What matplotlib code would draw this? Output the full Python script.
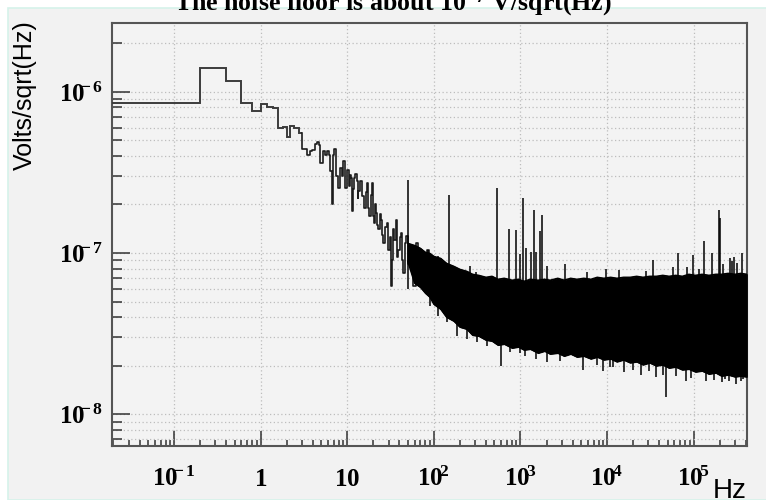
import numpy as np
import matplotlib
matplotlib.use("Agg")
import matplotlib.pyplot as plt
from matplotlib.ticker import LogLocator, NullFormatter
from matplotlib.patches import Rectangle
from matplotlib.transforms import ScaledTranslation

plt.rcParams['mathtext.fontset'] = 'custom'
plt.rcParams['mathtext.rm'] = 'Liberation Serif:bold'
plt.rcParams['mathtext.it'] = 'Liberation Serif:italic:bold'
plt.rcParams['mathtext.bf'] = 'Liberation Serif:bold'
plt.rcParams['mathtext.default'] = 'rm'

# ---------------- data ----------------
title_text = r"The noise floor is about 10$^{-7}$ V/sqrt(Hz)"
y_title = "Volts/sqrt(Hz)"
x_title = "Hz"

# low-frequency histogram bins (0.2 Hz wide)
hist_edges_hz = [0.0, 0.2, 0.4, 0.6, 0.8, 1.0, 1.2, 1.4, 1.6, 1.8, 2.0, 2.2, 2.4, 2.6, 2.8, 3.0]
hist_vals = [8.46e-7, 1.406e-6, 1.164e-6, 8.55e-7, 7.6e-7, 8.36e-7, 8.08e-7, 7.9e-7,
             5.94e-7, 6.08e-7, 5.27e-7, 6.17e-7, 5.99e-7, 5.99e-7, 5.56e-7]

# 3 - 100 Hz spectrum trace
line_hz = [3.0, 3.0, 3.42, 3.74, 3.91, 4.27, 4.54, 4.78, 4.87, 5.32, 5.56, 5.82, 6.18, 6.35,
           6.65, 6.82, 7.06, 7.45, 7.79, 8.28, 8.74, 9.04, 9.46, 10.05, 10.4, 10.8, 11.1,
           11.5, 11.8, 12.0, 12.4, 12.9, 13.2, 13.5, 14.08, 14.73, 15.65, 16.3, 17.09, 17.5,
           18.03, 18.6, 19.2, 19.8, 20.4, 21.0, 21.5, 22.2, 22.9, 23.6, 24.4, 25.2, 26.1,
           27.3, 28.6, 29.8, 30.8, 31.8, 32.6, 33.5, 35.0, 36.6, 37.7, 38.9, 40.2, 41.5,
           42.9, 44.4, 46.0, 47.7, 50.5, 54.0, 57.9, 62.2, 66.1, 70.5, 75.5, 82.6, 88.5,
           94.3, 100.3]
line_vals = [5.56e-7, 4.43e-7, 4.06e-7, 4.27e-7, 4.37e-7, 4.73e-7, 4.91e-7, 4.69e-7, 3.61e-7,
             4.27e-7, 4.07e-7, 4.27e-7, 4.07e-7, 3.21e-7, 2.0e-7, 4.07e-7, 4.41e-7, 2.99e-7,
             2.53e-7, 3.37e-7, 2.99e-7, 3.70e-7, 2.53e-7, 3.29e-7, 2.6e-7, 3.06e-7, 2.9e-7,
             1.82e-7, 2.5e-7, 2.93e-7, 3.1e-7, 2.78e-7, 2.2e-7, 2.41e-7, 2.78e-7, 2.25e-7,
             1.91e-7, 2.4e-7, 2.72e-7, 1.9e-7, 1.69e-7, 2.3e-7, 2.72e-7, 1.7e-7, 1.54e-7,
             2.0e-7, 1.78e-7, 1.5e-7, 1.40e-7, 1.75e-7, 1.61e-7, 1.3e-7, 1.16e-7, 1.45e-7,
             1.54e-7, 1.05e-7, 1.25e-7, 6.26e-8, 9.0e-8, 1.40e-7, 1.2e-7, 1.61e-7, 9.5e-8,
             1.05e-7, 1.25e-7, 1.34e-7, 9.0e-8, 7.57e-8, 1.15e-7, 1.27e-7, 8.5e-8, 1.10e-7,
             6.26e-8, 1.16e-7, 8.72e-8, 1.006e-7, 7.21e-8, 1.05e-7, 5.70e-8, 9.14e-8, 4.94e-8]

# dense noise band above ~50 Hz: upper / lower envelope
band_hz = [50, 60, 70, 80, 90, 100, 120, 140, 170, 200, 240, 280, 330, 400, 470, 550, 650,
           800, 950, 1100, 1300, 1600, 1900, 2200, 2700, 3200, 3800, 4500, 5400, 6500, 7700,
           9200, 11000, 13000, 15500, 18500, 22000, 26000, 31000, 37000, 44000, 52000, 62000,
           74000, 88000, 105000, 125000, 150000, 180000, 210000, 250000, 300000, 350000,
           410000]
band_hi = [1.15e-7, 1.115e-7, 1.07e-7, 1.01e-7, 9.96e-8, 9.54e-8, 9.27e-8, 8.64e-8, 8.28e-8,
           7.93e-8, 7.71e-8, 7.39e-8, 7.28e-8, 7.08e-8, 7.18e-8, 6.88e-8, 6.98e-8, 6.79e-8,
           6.88e-8, 6.69e-8, 6.88e-8, 6.79e-8, 6.88e-8, 6.79e-8, 6.98e-8, 6.79e-8, 6.98e-8,
           6.88e-8, 6.98e-8, 6.88e-8, 7.08e-8, 6.98e-8, 7.08e-8, 6.98e-8, 7.08e-8, 7.08e-8,
           7.18e-8, 7.08e-8, 7.18e-8, 7.18e-8, 7.28e-8, 7.18e-8, 7.28e-8, 7.18e-8, 7.39e-8,
           7.28e-8, 7.39e-8, 7.28e-8, 7.39e-8, 7.39e-8, 7.49e-8, 7.39e-8, 7.49e-8, 7.39e-8]
band_lo = [8.89e-8, 6.50e-8, 6.14e-8, 5.64e-8, 5.33e-8, 4.82e-8, 4.49e-8, 4.01e-8, 3.79e-8,
           3.48e-8, 3.38e-8, 3.10e-8, 3.06e-8, 2.89e-8, 2.85e-8, 2.69e-8, 2.73e-8, 2.58e-8,
           2.62e-8, 2.51e-8, 2.54e-8, 2.40e-8, 2.47e-8, 2.37e-8, 2.40e-8, 2.30e-8, 2.37e-8,
           2.27e-8, 2.30e-8, 2.21e-8, 2.27e-8, 2.18e-8, 2.21e-8, 2.12e-8, 2.18e-8, 2.09e-8,
           2.12e-8, 2.03e-8, 2.09e-8, 2.00e-8, 2.03e-8, 1.94e-8, 1.97e-8, 1.89e-8, 1.91e-8,
           1.835e-8, 1.86e-8, 1.78e-8, 1.81e-8, 1.73e-8, 1.76e-8, 1.71e-8, 1.73e-8, 1.71e-8]

# narrow lines sticking out above the noise band
peak_hz = [50, 85.5, 112, 150, 265, 311, 540, 730, 900, 990, 1060, 1160, 1325, 1420, 1500,
           1680, 1780, 2000, 3270, 5800, 9800, 13900, 28300, 34360, 58300, 66700, 83000,
           98400, 116000, 132000, 164000, 196000, 199500, 220000, 260000, 279000, 294000,
           320000, 357000]
peak_vals = [2.85e-7, 1.05e-7, 9.6e-8, 2.3e-7, 8.3e-8, 7.6e-8, 2.54e-7, 1.4e-7, 1.38e-7,
             9.8e-8, 2.18e-7, 1.08e-7, 1.02e-7, 1.84e-7, 1.02e-7, 1.37e-7, 1.73e-7, 8.3e-8,
             8.6e-8, 7.6e-8, 7.93e-8, 7.82e-8, 7.71e-8, 9.1e-8, 8.2e-8, 9.95e-8, 8.2e-8,
             9.7e-8, 7.93e-8, 1.19e-7, 1.0e-7, 1.86e-7, 1.66e-7, 8.5e-8, 9.3e-8, 8.9e-8,
             9.5e-8, 8.7e-8, 9.95e-8]

# dips reaching below the noise band
dip_hz = [90.2, 111, 131, 142, 183, 239, 314, 409, 604, 753, 977, 1122, 1530, 2000, 2835,
          5260, 7570, 8870, 10690, 11660, 15900, 19800, 24900, 30800, 37100, 44000, 47600,
          63100, 82200, 93900, 116000, 140000, 173000, 214000, 232000, 258000, 310000,
          354000, 370000]
dip_vals = [4.7e-8, 4.07e-8, 4.2e-8, 3.73e-8, 3.07e-8, 2.95e-8, 2.81e-8, 2.66e-8, 2.0e-8,
            2.44e-8, 2.4e-8, 2.30e-8, 2.2e-8, 2.1e-8, 2.15e-8, 1.87e-8, 2.03e-8, 1.86e-8,
            1.97e-8, 1.97e-8, 1.84e-8, 1.87e-8, 1.76e-8, 1.86e-8, 1.71e-8, 1.76e-8, 1.28e-8,
            1.73e-8, 1.62e-8, 1.69e-8, 1.82e-8, 1.6e-8, 1.64e-8, 1.58e-8, 1.66e-8, 1.6e-8,
            1.55e-8, 1.62e-8, 1.66e-8]

xtick_vals = [0.1, 1, 10, 100, 1e3, 1e4, 1e5]
xtick_labels = [r'$10^{\!\!\!-1}$', r'$1$', r'$10$', r'$10^{\!2}$', r'$10^{\!3}$',
                r'$10^{\!4}$', r'$10^{\!5}$']
ytick_vals = [1e-8, 1e-7, 1e-6]
ytick_labels = [r'$10^{\!\!\!-8}$', r'$10^{\!\!\!-7}$', r'$10^{\!\!\!-6}$']

x_range = (0.0191, 4.096e5)
y_range = (6.39e-9, 2.68e-6)

# ---------------- figure ----------------
W, H = 766, 500
fig = plt.figure(figsize=(W / 100, H / 100), dpi=100, facecolor='white')
fig.patches.append(Rectangle((8 / W, 0), 1.0, (H - 8) / H, transform=fig.transFigure,
                             facecolor='#f2f2f2', edgecolor='#d6f2ea', lw=1.2, zorder=-10))

ax = fig.add_axes([111.7 / W, 1 - 445.7 / H, (746.7 - 111.7) / W, (445.7 - 22.7) / H])
ax.set_facecolor('#f3f3f3')
ax.set_xscale('log')
ax.set_yscale('log')
ax.set_xlim(*x_range)
ax.set_ylim(*y_range)

grid_kw = dict(color='#bdbdbd', lw=0.9, ls=(0, (1, 2)))
ax.set_xticks(xtick_vals, labels=xtick_labels)
ax.xaxis.set_minor_locator(LogLocator(base=10, subs=np.arange(2, 10), numticks=30))
ax.xaxis.set_minor_formatter(NullFormatter())
ax.set_yticks(ytick_vals, labels=ytick_labels)
ax.yaxis.set_minor_locator(LogLocator(base=10, subs=np.arange(2, 10), numticks=30))
ax.yaxis.set_minor_formatter(NullFormatter())
ax.grid(True, which='major', axis='x', **grid_kw)
ax.grid(True, which='both', axis='y', **grid_kw)
ax.set_axisbelow(True)

ax.tick_params(axis='both', which='both', direction='in', top=False, right=False,
               color='#333333', width=1.1, labelsize=18)
ax.tick_params(axis='x', which='major', length=10.8, pad=29)
ax.tick_params(axis='x', which='minor', length=4.3)
ax.tick_params(axis='y', which='major', length=13, pad=6)
ax.tick_params(axis='y', which='minor', length=7.2)

for lbl in ax.get_xticklabels():
    lbl.set_va('baseline')
for lbl in ax.get_yticklabels():
    lbl.set_va('baseline')
    lbl.set_transform(lbl.get_transform() + ScaledTranslation(0, -0.10, fig.dpi_scale_trans))

for sp in ax.spines.values():
    sp.set_color('#555555')
    sp.set_linewidth(1.5)

# ---------------- data marks ----------------
ax.stairs(hist_vals, hist_edges_hz, baseline=None, color='#3c3c3c', lw=1.4, zorder=3)
ax.plot(line_hz, line_vals, drawstyle='steps-post', color='#1c1c1c', lw=1.2, zorder=3)
ax.fill_between(band_hz, band_lo, band_hi, color='black', lw=0.8, zorder=3)
ax.plot(band_hz, band_hi, color='black', lw=1.0, zorder=3)
ax.plot(band_hz, band_lo, color='black', lw=1.0, zorder=3)
ax.vlines(peak_hz, 6.0e-8, peak_vals, color='black', lw=1.1, zorder=3)
ax.vlines(dip_hz, dip_vals, 6.0e-8, color='black', lw=1.1, zorder=3)

# ---------------- titles ----------------
fig.text(392.5 / W, 1 - 10.5 / H, title_text, ha='center', va='baseline',
         family='Liberation Serif', weight='bold', fontsize=18.6)
fig.text(25 / W, 1 - 20 / H, y_title, rotation=90, ha='center', va='top',
         family='Liberation Sans', fontsize=18)
fig.text(747 / W, 1 - 478 / H, x_title, ha='right', va='top',
         family='Liberation Sans', fontsize=20)

fig.savefig('out.png', dpi=100, facecolor=fig.get_facecolor())
